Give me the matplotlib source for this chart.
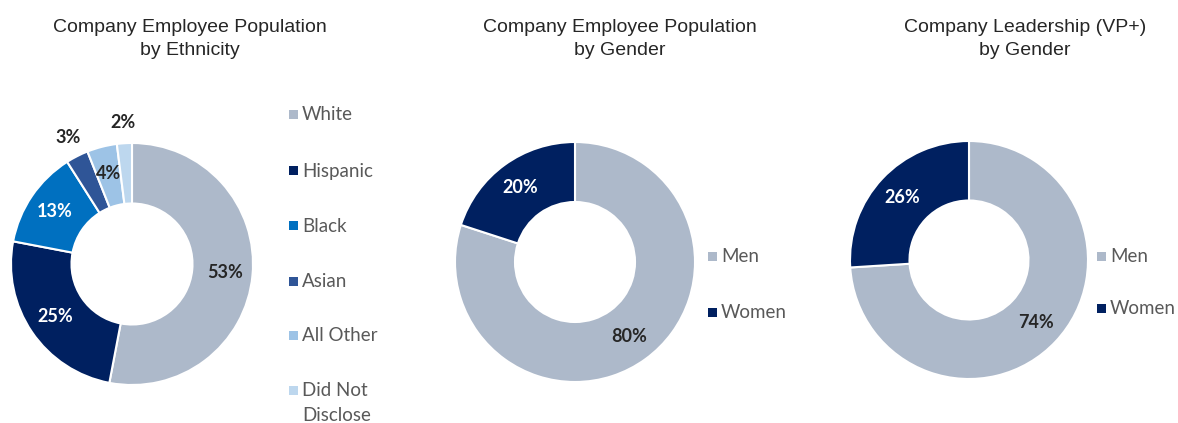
import numpy as np
import matplotlib
matplotlib.use("Agg")
import matplotlib.pyplot as plt
from matplotlib.patches import Rectangle
from matplotlib.colors import to_rgb

# data
eth_labels = ["White", "Hispanic", "Black", "Asian", "All Other", "Did Not\nDisclose"]
eth_values = [53, 25, 13, 3, 4, 2]
eth_colors = ["#ADB9CA", "#002060", "#0070C0", "#2F5597", "#9DC3E6", "#BDD7EE"]

gender_labels = ["Men", "Women"]
emp_gender = [80, 20]
lead_gender = [74, 26]
gender_colors = ["#ADB9CA", "#002060"]

titles = ["Company Employee Population\nby Ethnicity",
          "Company Employee Population\nby Gender",
          "Company Leadership (VP+)\nby Gender"]

W, H = 1178, 423
fig = plt.figure(figsize=(W / 100, H / 100), dpi=100)

LABEL_FONT = ["Lato", "DejaVu Sans"]


def px(x, y):
    # pixel coords (top-left origin) -> figure fraction
    return x / W, (H - y) / H


def donut(cx, cy, r, values, colors, outside=()):
    ax = fig.add_axes([(cx - r) / W, (H - cy - r) / H, 2 * r / W, 2 * r / H])
    wedges, _ = ax.pie(values, colors=colors, startangle=90, counterclock=False,
                       radius=1, wedgeprops=dict(width=0.5, edgecolor="white", linewidth=1.5))
    ax.set_xlim(-1, 1)
    ax.set_ylim(-1, 1)
    ax.set_aspect("auto")
    ax.axis("off")
    total = float(sum(values))
    start = 0.0
    for i, v in enumerate(values):
        mid = 90 - 360 * (start + v / 2) / total
        start += v
        rr = 1.17 if i in outside else 0.77
        lum = np.dot(to_rgb(colors[i]), [0.299, 0.587, 0.114])
        col = "white" if (lum < 0.5 and i not in outside) else "#262626"
        ax.text(rr * np.cos(np.radians(mid)), rr * np.sin(np.radians(mid)), f"{v}%",
                ha="center", va="center", fontsize=13, fontweight="bold",
                color=col, family=LABEL_FONT)
    return ax


def legend(x, ys, labels, colors):
    for y, lab, c in zip(ys, labels, colors):
        fx, fy = px(x, y)
        fig.add_artist(Rectangle((fx, fy - 4.5 / H), 9 / W, 9 / H,
                                 transform=fig.transFigure, color=c, lw=0))
        lines = lab.split("\n")
        for k, ln in enumerate(lines):
            fig.text(fx + 13 / W, fy - k * 25 / H, ln, ha="left", va="center",
                     fontsize=13.5, color="#595959", family=LABEL_FONT)


donut(132, 264, 121, eth_values, eth_colors, outside=(3, 5))
donut(575, 262, 120, emp_gender, gender_colors)
donut(969, 260, 119, lead_gender, gender_colors)

legend(289, [115, 171, 226, 281, 335, 390], eth_labels, eth_colors)
legend(708, [256, 312], gender_labels, gender_colors)
legend(1097, [256, 308], gender_labels, gender_colors)

for (tx, ty), t in zip([(190, 39), (620, 39), (1025, 39)], titles):
    fx, fy = px(tx, ty)
    fig.text(fx, fy, t, ha="center", va="center", fontsize=14, color="#262626",
             family=["Liberation Sans", "DejaVu Sans"], linespacing=1.4)

fig.savefig("out.png", dpi=100)
